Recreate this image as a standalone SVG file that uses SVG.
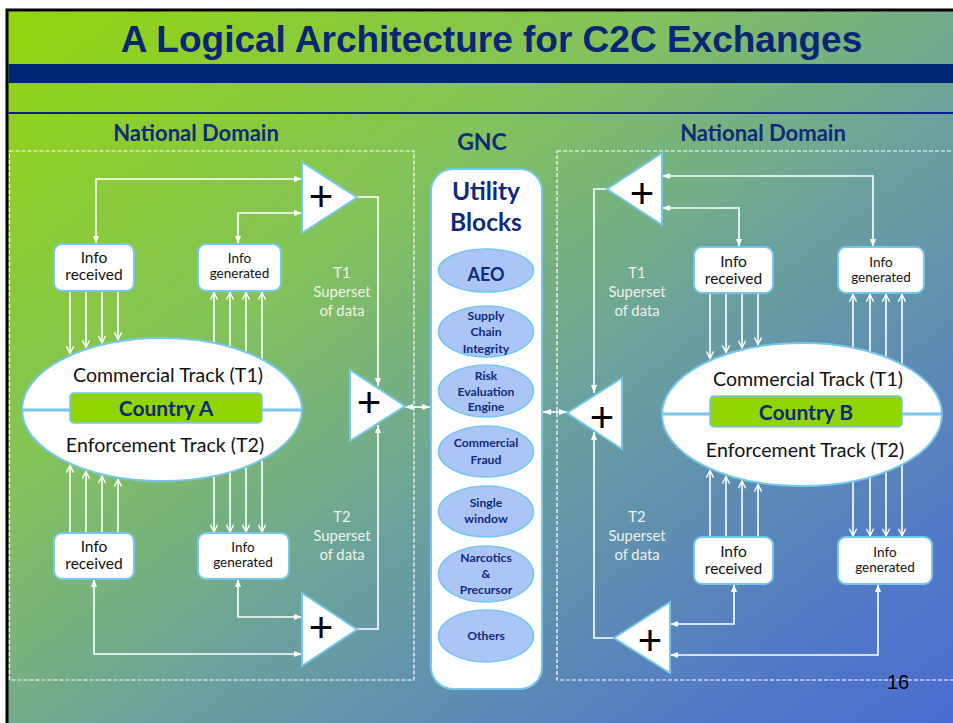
<svg xmlns="http://www.w3.org/2000/svg" width="953" height="723" viewBox="0 0 953 723">
  <defs>
    <linearGradient id="bg" x1="0" y1="0" x2="1" y2="1">
      <stop offset="0" stop-color="#94d50e"/>
      <stop offset="0.33" stop-color="#84c35a"/>
      <stop offset="0.55" stop-color="#6da49a"/>
      <stop offset="0.85" stop-color="#527ac6"/>
      <stop offset="1" stop-color="#4a6cd2"/>
    </linearGradient>
    <marker id="tip" viewBox="0 0 10 10" refX="10" refY="5" markerWidth="8" markerHeight="8" markerUnits="userSpaceOnUse" orient="auto-start-reverse">
      <path d="M0,1.2 L10,5 L0,8.8 Z" fill="#ffffff"/>
    </marker>
    <marker id="chev" viewBox="0 0 10 10" refX="9" refY="5" markerWidth="9" markerHeight="9" markerUnits="userSpaceOnUse" orient="auto">
      <path d="M1,1 L9,5 L1,9" fill="none" stroke="#ffffff" stroke-width="1.5"/>
    </marker>
  </defs>
  <style>
    .title { font-family: "Liberation Sans", Arial, sans-serif; font-weight: bold; font-size: 37px; fill: #0b2672; }
    .head { font-family: Lato, "Open Sans", sans-serif; font-weight: bold; font-size: 22px; fill: #0f2b7a; }
    .gnc { font-size: 23px; }
    .dash { fill: none; stroke: #ffffff; stroke-width: 1.2; stroke-dasharray: 4 2; }
    .box { fill: #ffffff; stroke: #74c8ec; stroke-width: 2; }
    .tri { fill: #ffffff; stroke: #74c8ec; stroke-width: 2; stroke-linejoin: miter; }
    .plus { font-family: "Liberation Sans", Arial, sans-serif; font-size: 42px; fill: #000000; }
    .lbl { font-family: Lato, "Open Sans", sans-serif; font-size: 15.5px; fill: #111111; }
    .lbls { font-family: Lato, "Open Sans", sans-serif; font-size: 13.5px; fill: #111111; }
    .track { font-family: Lato, "Open Sans", sans-serif; font-size: 19.6px; fill: #111111; }
    .country { font-family: Lato, "Open Sans", sans-serif; font-weight: bold; font-size: 21px; fill: #0f2b7a; }
    .cbar { fill: #92d400; stroke: #74c8ec; stroke-width: 1.5; }
    .axis { stroke: #74c8ec; stroke-width: 3; }
    .note { font-family: Lato, "Open Sans", sans-serif; font-size: 14.8px; fill: #eef2ea; }
    .ub { fill: #ffffff; stroke: #74c8ec; stroke-width: 2; }
    .ubt { font-family: Lato, "Open Sans", sans-serif; font-weight: bold; font-size: 24.5px; fill: #0f2b7a; }
    .blk { fill: #abc5f6; stroke: #74c8ec; stroke-width: 1.5; }
    .blkt { font-family: Lato, "Open Sans", sans-serif; font-weight: bold; font-size: 12.2px; fill: #0f2b7a; }
    .big { font-size: 18px; }
    .link { fill: none; stroke: #ffffff; stroke-width: 1.6; }
    .feed { fill: none; stroke: #ffffff; stroke-width: 1.6; }
    .pg { font-family: "Liberation Sans", Arial, sans-serif; font-size: 20px; fill: #000000; }
  </style>

  <!-- slide background and frame -->
  <rect x="0" y="0" width="953" height="723" fill="#ffffff"/>
  <rect x="7" y="10" width="952" height="720" fill="url(#bg)" stroke="#000000" stroke-width="3"/>
  <rect x="8.5" y="64" width="945" height="19" fill="#002672"/>
  <line x1="8.5" y1="113" x2="953" y2="113" stroke="#0a1e8c" stroke-width="2"/>
  <text class="title" x="491.5" y="52" text-anchor="middle">A Logical Architecture for C2C Exchanges</text>

  <!-- domain frames and headings -->
  <g id="domain-left">
    <rect class="dash" x="9.5" y="151" width="404.5" height="529"/>
    <text class="head" x="196" y="140.5" text-anchor="middle">National Domain</text>
  </g>
  <g id="domain-right">
    <rect class="dash" x="557" y="151" width="420" height="529"/>
    <text class="head" x="763" y="140.5" text-anchor="middle">National Domain</text>
  </g>
  <text class="head gnc" x="482" y="150" text-anchor="middle">GNC</text>

  <!-- connectors -->
  <g id="connectors">
    <!-- left: info boxes to adders -->
    <path class="link" d="M96,244 V179 H302" marker-start="url(#tip)" marker-end="url(#tip)"/>
    <path class="link" d="M238,244 V213 H302" marker-start="url(#tip)" marker-end="url(#tip)"/>
    <path class="link" d="M357,197 H378 V386" marker-end="url(#tip)"/>
    <path class="link" d="M238,579 V617 H302" marker-start="url(#tip)" marker-end="url(#tip)"/>
    <path class="link" d="M94,579 V654 H302" marker-start="url(#tip)" marker-end="url(#tip)"/>
    <path class="link" d="M357,629 H378 V425" marker-end="url(#tip)"/>
    <path class="link" d="M405,407 H430" marker-start="url(#tip)" marker-end="url(#tip)"/>
    <!-- right: info boxes to adders -->
    <path class="link" d="M873,247 V176 H662" marker-start="url(#tip)" marker-end="url(#tip)"/>
    <path class="link" d="M739,247 V208 H662" marker-start="url(#tip)" marker-end="url(#tip)"/>
    <path class="link" d="M607,189 H594 V393" marker-end="url(#tip)"/>
    <path class="link" d="M734,584 V624 H670" marker-start="url(#tip)" marker-end="url(#tip)"/>
    <path class="link" d="M878,584 V655 H670" marker-start="url(#tip)" marker-end="url(#tip)"/>
    <path class="link" d="M614,638 H594 V432" marker-end="url(#tip)"/>
    <path class="link" d="M543,412 H567" marker-start="url(#tip)" marker-end="url(#tip)"/>

    <!-- left tracks -->
    <path class="feed" d="M70,291 V353.5" marker-end="url(#chev)"/>
    <path class="feed" d="M86,291 V347.5" marker-end="url(#chev)"/>
    <path class="feed" d="M102,291 V343" marker-end="url(#chev)"/>
    <path class="feed" d="M118,291 V339.6" marker-end="url(#chev)"/>
    <path class="feed" d="M214,346 V292.5" marker-end="url(#chev)"/>
    <path class="feed" d="M230,350 V292.5" marker-end="url(#chev)"/>
    <path class="feed" d="M246,355 V292.5" marker-end="url(#chev)"/>
    <path class="feed" d="M262,362 V292.5" marker-end="url(#chev)"/>
    <path class="feed" d="M70,533 V465.4" marker-end="url(#chev)"/>
    <path class="feed" d="M86,533 V471.5" marker-end="url(#chev)"/>
    <path class="feed" d="M102,533 V476" marker-end="url(#chev)"/>
    <path class="feed" d="M118,533 V479.4" marker-end="url(#chev)"/>
    <path class="feed" d="M214,473 V532" marker-end="url(#chev)"/>
    <path class="feed" d="M230,469 V532" marker-end="url(#chev)"/>
    <path class="feed" d="M246,464 V532" marker-end="url(#chev)"/>
    <path class="feed" d="M262,457 V532" marker-end="url(#chev)"/>
    <!-- right tracks -->
    <path class="feed" d="M710,293 V358.6" marker-end="url(#chev)"/>
    <path class="feed" d="M726,293 V352.5" marker-end="url(#chev)"/>
    <path class="feed" d="M742,293 V347.9" marker-end="url(#chev)"/>
    <path class="feed" d="M758,293 V344.6" marker-end="url(#chev)"/>
    <path class="feed" d="M853,351 V294.5" marker-end="url(#chev)"/>
    <path class="feed" d="M870,355 V294.5" marker-end="url(#chev)"/>
    <path class="feed" d="M886,360 V294.5" marker-end="url(#chev)"/>
    <path class="feed" d="M902,367 V294.5" marker-end="url(#chev)"/>
    <path class="feed" d="M710,537 V470.4" marker-end="url(#chev)"/>
    <path class="feed" d="M726,537 V476.5" marker-end="url(#chev)"/>
    <path class="feed" d="M742,537 V481" marker-end="url(#chev)"/>
    <path class="feed" d="M758,537 V484.4" marker-end="url(#chev)"/>
    <path class="feed" d="M853,478 V536" marker-end="url(#chev)"/>
    <path class="feed" d="M870,474 V536" marker-end="url(#chev)"/>
    <path class="feed" d="M886,469 V536" marker-end="url(#chev)"/>
    <path class="feed" d="M902,461 V536" marker-end="url(#chev)"/>
  </g>

  <!-- superset notes -->
  <text class="note" text-anchor="middle"><tspan x="342" y="278">T1</tspan><tspan x="342" y="297">Superset</tspan><tspan x="342" y="316">of data</tspan></text>
  <text class="note" text-anchor="middle"><tspan x="342" y="522">T2</tspan><tspan x="342" y="541">Superset</tspan><tspan x="342" y="560">of data</tspan></text>
  <text class="note" text-anchor="middle"><tspan x="637" y="278">T1</tspan><tspan x="637" y="297">Superset</tspan><tspan x="637" y="316">of data</tspan></text>
  <text class="note" text-anchor="middle"><tspan x="637" y="522">T2</tspan><tspan x="637" y="541">Superset</tspan><tspan x="637" y="560">of data</tspan></text>

  <!-- country A -->
  <g id="country-a">
    <ellipse class="box" cx="162" cy="409.5" rx="140" ry="71.5" stroke-width="2.5"/>
    <line class="axis" x1="22" y1="410" x2="302" y2="410"/>
    <rect class="cbar" x="70" y="393" width="192" height="30" rx="4"/>
    <text class="country" x="166" y="416" text-anchor="middle">Country A</text>
    <text class="track" x="168" y="382" text-anchor="middle">Commercial Track (T1)</text>
    <text class="track" x="165" y="452" text-anchor="middle">Enforcement Track (T2)</text>
  </g>

  <!-- country B -->
  <g id="country-b">
    <ellipse class="box" cx="802" cy="414.5" rx="140" ry="71.5" stroke-width="2.5"/>
    <line class="axis" x1="662" y1="414" x2="942" y2="414"/>
    <rect class="cbar" x="710" y="396" width="192" height="31" rx="4"/>
    <text class="country" x="806" y="420" text-anchor="middle">Country B</text>
    <text class="track" x="808" y="386" text-anchor="middle">Commercial Track (T1)</text>
    <text class="track" x="805" y="457" text-anchor="middle">Enforcement Track (T2)</text>
  </g>

  <!-- info boxes, left -->
  <g id="a-t1-received">
    <rect class="box" x="54" y="244" width="80" height="47" rx="8"/>
    <text class="lbl" text-anchor="middle"><tspan x="94" y="263">Info</tspan><tspan x="94" y="280">received</tspan></text>
  </g>
  <g id="a-t1-generated">
    <rect class="box" x="198" y="244" width="83" height="47" rx="8"/>
    <text class="lbls" text-anchor="middle"><tspan x="239.5" y="263">Info</tspan><tspan x="239.5" y="278">generated</tspan></text>
  </g>
  <g id="a-t2-received">
    <rect class="box" x="54" y="533" width="80" height="46" rx="8"/>
    <text class="lbl" text-anchor="middle"><tspan x="94" y="552">Info</tspan><tspan x="94" y="569">received</tspan></text>
  </g>
  <g id="a-t2-generated">
    <rect class="box" x="198" y="533" width="91" height="46" rx="8"/>
    <text class="lbls" text-anchor="middle"><tspan x="243" y="552">Info</tspan><tspan x="243" y="567">generated</tspan></text>
  </g>

  <!-- info boxes, right -->
  <g id="b-t1-received">
    <rect class="box" x="694" y="247" width="79" height="46" rx="8"/>
    <text class="lbl" text-anchor="middle"><tspan x="733.5" y="267">Info</tspan><tspan x="733.5" y="284">received</tspan></text>
  </g>
  <g id="b-t1-generated">
    <rect class="box" x="838" y="247" width="86" height="46" rx="8"/>
    <text class="lbls" text-anchor="middle"><tspan x="881" y="267">Info</tspan><tspan x="881" y="282">generated</tspan></text>
  </g>
  <g id="b-t2-received">
    <rect class="box" x="694" y="537" width="79" height="47" rx="8"/>
    <text class="lbl" text-anchor="middle"><tspan x="733.5" y="557">Info</tspan><tspan x="733.5" y="574">received</tspan></text>
  </g>
  <g id="b-t2-generated">
    <rect class="box" x="838" y="537" width="94" height="47" rx="8"/>
    <text class="lbls" text-anchor="middle"><tspan x="885" y="557">Info</tspan><tspan x="885" y="572">generated</tspan></text>
  </g>

  <!-- adders -->
  <g id="a-t1-adder">
    <path class="tri" d="M302,162 L357,197.5 L302,233 Z"/>
    <text class="plus" x="321" y="211" text-anchor="middle">+</text>
  </g>
  <g id="a-t2-adder">
    <path class="tri" d="M302,593 L357,629.5 L302,666 Z"/>
    <text class="plus" x="321" y="642" text-anchor="middle">+</text>
  </g>
  <g id="a-adder">
    <path class="tri" d="M350,370 L405,406 L350,441 Z"/>
    <text class="plus" x="369" y="417" text-anchor="middle">+</text>
  </g>
  <g id="b-t1-adder">
    <path class="tri" d="M662,153 L607,189 L662,225 Z"/>
    <text class="plus" x="642" y="208" text-anchor="middle">+</text>
  </g>
  <g id="b-adder">
    <path class="tri" d="M622,378 L567,413 L622,449 Z"/>
    <text class="plus" x="602" y="432" text-anchor="middle">+</text>
  </g>
  <g id="b-t2-adder">
    <path class="tri" d="M670,602 L614,638 L670,673 Z"/>
    <text class="plus" x="650" y="655" text-anchor="middle">+</text>
  </g>

  <!-- GNC utility blocks -->
  <g id="utility-blocks">
    <rect class="ub" x="431" y="169" width="111" height="520" rx="22"/>
    <text class="ubt" text-anchor="middle"><tspan x="486" y="200">Utility</tspan><tspan x="486" y="231">Blocks</tspan></text>
  </g>
  <g id="ub-aeo">
    <ellipse class="blk" cx="486" cy="270.5" rx="47.5" ry="21.5"/>
    <text class="blkt big" x="486" y="281" text-anchor="middle">AEO</text>
  </g>
  <g id="ub-supply">
    <ellipse class="blk" cx="486" cy="331.5" rx="47.5" ry="25.5"/>
    <text class="blkt" text-anchor="middle"><tspan x="486" y="320">Supply</tspan><tspan x="486" y="336">Chain</tspan><tspan x="486" y="352.5">Integrity</tspan></text>
  </g>
  <g id="ub-risk">
    <ellipse class="blk" cx="486" cy="391" rx="47.5" ry="26"/>
    <text class="blkt" text-anchor="middle"><tspan x="486" y="380">Risk</tspan><tspan x="486" y="396">Evaluation</tspan><tspan x="486" y="411">Engine</tspan></text>
  </g>
  <g id="ub-fraud">
    <ellipse class="blk" cx="486" cy="451.5" rx="47.5" ry="25.5"/>
    <text class="blkt" text-anchor="middle"><tspan x="486" y="447">Commercial</tspan><tspan x="486" y="464">Fraud</tspan></text>
  </g>
  <g id="ub-window">
    <ellipse class="blk" cx="486" cy="511.5" rx="47.5" ry="25.5"/>
    <text class="blkt" text-anchor="middle"><tspan x="486" y="507">Single</tspan><tspan x="486" y="523">window</tspan></text>
  </g>
  <g id="ub-narcotics">
    <ellipse class="blk" cx="486" cy="574" rx="47.5" ry="28"/>
    <text class="blkt" text-anchor="middle"><tspan x="486" y="562">Narcotics</tspan><tspan x="486" y="578">&amp;</tspan><tspan x="486" y="594">Precursor</tspan></text>
  </g>
  <g id="ub-others">
    <ellipse class="blk" cx="486" cy="636" rx="47.5" ry="26"/>
    <text class="blkt" x="486" y="640" text-anchor="middle">Others</text>
  </g>

  <text class="pg" x="898" y="689" text-anchor="middle">16</text>
</svg>
